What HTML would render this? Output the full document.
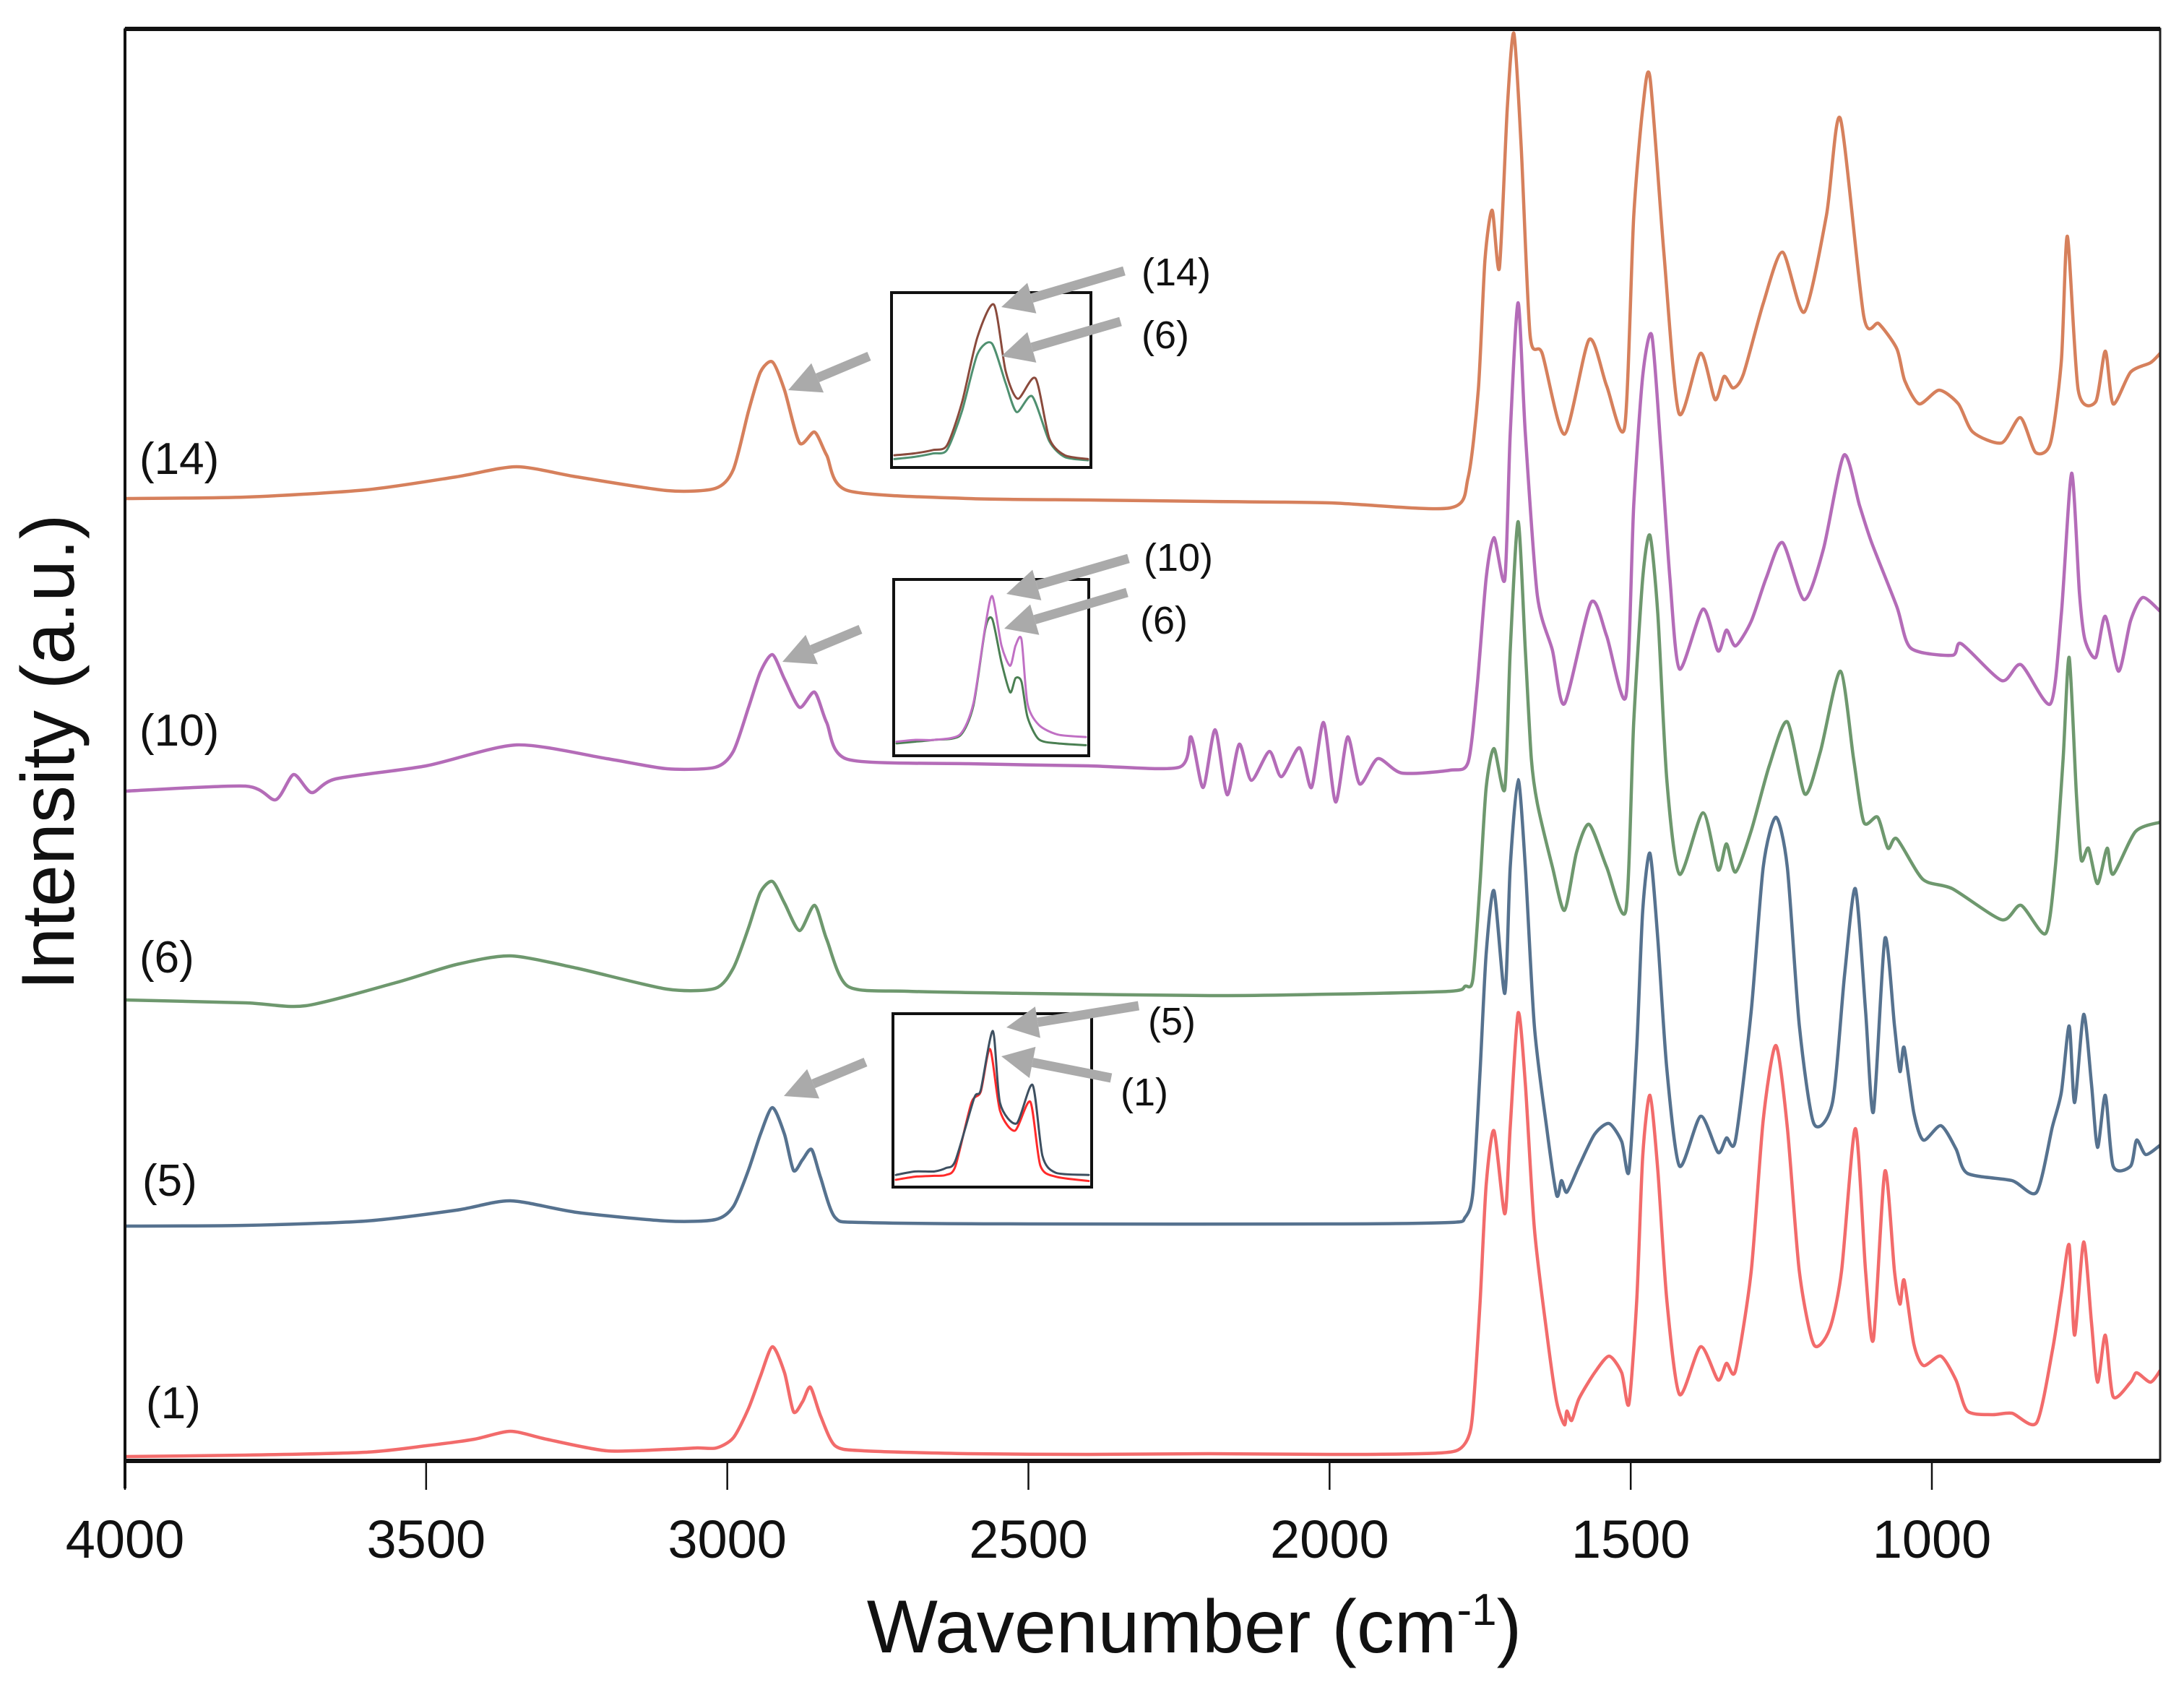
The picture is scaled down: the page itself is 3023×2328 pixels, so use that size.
<!DOCTYPE html>
<html><head><meta charset="utf-8"><style>
html,body{margin:0;padding:0;background:#fff;}
svg{display:block;}
text{font-family:"Liberation Sans",Arial,sans-serif;}
</style></head><body>
<svg id="chart" width="3023" height="2328" viewBox="0 0 3023 2328" xmlns="http://www.w3.org/2000/svg">
<defs><clipPath id="plotclip"><rect x="173" y="40" width="2817" height="1982"/></clipPath></defs>
<rect x="0" y="0" width="3023" height="2328" fill="#fff"/>
<g id="series" clip-path="url(#plotclip)"></g>
<g id="insets"></g>
<g id="axes"></g>
</svg>
<script>
const NS="http://www.w3.org/2000/svg";
// ---- data ----
const xTicks=[4000,3500,3000,2500,2000,1500,1000];
const xTickLabels=["4000","3500","3000","2500","2000","1500","1000"];
const seriesNames=["(1)","(5)","(6)","(10)","(14)"];
const wn1=[4000,3800,3600,3500,3420,3360,3300,3200,3100,3050,3018,2990,2965,2945,2925,2905,2890,2875,2862,2845,2821,2774,2600,2400,2200,2000,1850,1790,1770,1762,1750,1740,1727,1709,1700,1687,1675,1660,1640,1623,1610,1606,1598,1586,1560,1536,1515,1503,1490,1480,1468,1455,1440,1419,1384,1355,1341,1326,1300,1280,1259,1240,1220,1196,1170,1150,1127,1110,1097,1078,1062,1053,1046,1030,1014,985,960,941,900,867,826,800,785,772,763,748,735,725,712,699,670,660,637,621];
const val1=[6,8,12,21,30,41,30,14,16,18,18,32,72,117,158,122,68,82,102,62,21,14,10,9,10,9,10,14,32,69,222,382,457,342,462,620,522,322,181,82,50,69,56,86,122,145,122,79,222,422,506,402,222,92,158,112,135,125,262,472,575,462,262,161,182,262,460,262,168,401,262,217,250,162,132,145,112,69,64,66,53,152,232,299,174,303,192,109,174,89,109,122,109,125];
const wn5=[4000,3800,3600,3450,3360,3250,3100,3020,2990,2965,2945,2925,2905,2890,2875,2860,2845,2821,2774,2500,2000,1800,1775,1762,1750,1740,1727,1709,1700,1687,1675,1660,1640,1623,1615,1606,1586,1560,1536,1515,1503,1490,1480,1468,1455,1440,1419,1384,1355,1341,1326,1300,1280,1259,1240,1220,1196,1165,1145,1127,1110,1097,1078,1062,1053,1046,1030,1014,985,960,941,867,826,800,785,772,763,748,735,725,712,699,670,660,645,621];
const val5=[325,326,332,347,360,344,332,334,352,402,452,489,452,402,417,431,392,337,330,328,328,330,337,372,542,702,789,647,822,943,822,602,464,368,388,372,408,452,467,442,401,572,762,841,722,542,408,477,427,447,444,622,822,891,822,602,467,496,672,792,622,483,723,602,539,572,482,444,464,432,398,388,372,462,510,602,496,618,522,434,506,408,408,444,424,437];
const wn6=[4000,3800,3700,3550,3450,3360,3250,3100,3020,2990,2965,2945,2925,2905,2880,2855,2835,2800,2700,2500,2200,2000,1800,1775,1762,1750,1740,1727,1709,1700,1687,1675,1665,1655,1630,1610,1590,1569,1540,1508,1495,1480,1468,1455,1440,1419,1380,1355,1341,1326,1300,1270,1240,1211,1185,1152,1130,1113,1090,1073,1058,1015,966,884,852,811,795,782,772,760,752,740,725,709,699,662,621];
const val6=[638,634,630,662,687,699,682,653,654,682,737,787,802,772,734,769,722,657,650,647,644,646,650,657,667,802,932,986,930,1122,1300,1122,972,910,822,762,842,881,822,762,1022,1222,1281,1172,942,812,897,818,854,815,872,962,1023,923,982,1093,972,884,891,848,861,805,792,749,769,730,822,972,1112,922,832,848,799,848,812,871,884];
const wn10=[4000,3800,3750,3720,3690,3650,3500,3350,3200,3100,3020,2990,2965,2945,2925,2905,2880,2855,2835,2800,2600,2400,2250,2230,2210,2190,2170,2150,2130,2100,2080,2050,2030,2010,1990,1970,1950,1920,1880,1800,1770,1755,1740,1727,1709,1700,1687,1675,1655,1630,1610,1566,1540,1508,1495,1480,1465,1450,1435,1419,1380,1355,1341,1326,1300,1275,1248,1212,1180,1146,1120,1100,1058,1035,966,951,884,852,803,785,768,755,746,728,712,690,670,650,621];
const val10=[927,934,915,950,925,944,962,991,972,958,960,982,1042,1092,1116,1082,1043,1064,1022,971,965,962,960,1002,932,1012,922,992,942,982,947,987,932,1022,912,1002,937,972,952,956,967,1072,1222,1278,1220,1422,1603,1422,1198,1122,1048,1188,1142,1058,1322,1502,1558,1402,1222,1096,1179,1121,1150,1128,1162,1222,1271,1192,1262,1392,1322,1271,1182,1125,1115,1131,1080,1102,1048,1172,1367,1202,1137,1112,1169,1093,1163,1195,1176];
const wn14=[4000,3800,3600,3450,3350,3250,3100,3020,2990,2965,2945,2925,2905,2880,2855,2835,2800,2600,2400,2200,2000,1800,1770,1753,1742,1730,1718,1705,1694,1682,1667,1647,1610,1569,1540,1510,1495,1480,1468,1445,1420,1384,1360,1345,1330,1313,1280,1248,1212,1175,1152,1113,1088,1058,1045,1021,988,956,932,884,853,828,803,785,775,757,728,712,699,670,637,621];
const val14=[1332,1334,1344,1362,1376,1362,1343,1346,1372,1452,1507,1521,1482,1409,1424,1392,1343,1332,1330,1328,1326,1319,1361,1482,1662,1731,1651,1872,1976,1822,1558,1533,1421,1552,1488,1431,1722,1872,1915,1673,1450,1533,1469,1501,1485,1504,1602,1673,1590,1724,1858,1584,1574,1539,1495,1463,1482,1463,1424,1409,1444,1396,1409,1522,1695,1482,1466,1536,1463,1507,1520,1533];
// inset data (wavenumber window 3100-2750, normalized intensity)
const insA_wn=[3100,3065,3030,3005,2978,2950,2920,2899,2877,2845,2820,2792,2750];
const insA_v14=[0.07,0.08,0.10,0.126,0.37,0.745,0.931,0.552,0.393,0.51,0.166,0.07,0.048];
const insA_wn6=[3100,3065,3030,3005,2978,2950,2924,2899,2879,2851,2820,2792,2750];
const insA_v6=[0.048,0.06,0.08,0.10,0.32,0.648,0.71,0.483,0.317,0.407,0.15,0.06,0.041];
const insB_wn=[3100,3065,3030,2983,2958,2936,2923,2906,2890,2880,2869,2858,2837,2802,2750];
const insB_v10=[0.08,0.09,0.09,0.12,0.297,0.734,0.905,0.625,0.51,0.625,0.66,0.297,0.175,0.12,0.106];
const insB_v6=[0.07,0.08,0.09,0.113,0.283,0.72,0.775,0.53,0.36,0.44,0.42,0.22,0.093,0.07,0.06];
const insC_wn5=[3100,3065,3030,3009,2992,2958,2946,2924,2911,2881,2852,2834,2810,2750];
const insC_v5=[0.07,0.09,0.09,0.11,0.152,0.512,0.56,0.90,0.485,0.367,0.589,0.18,0.083,0.07];
const insC_wn1=[3100,3065,3030,3009,2992,2963,2946,2929,2911,2884,2856,2838,2810,2750];
const insC_v1=[0.042,0.06,0.065,0.07,0.12,0.485,0.55,0.796,0.44,0.325,0.492,0.125,0.06,0.035];

// ---- scales ----
const X0=173,X1=2990,YB=2022,YT=40;
function xS(w){return X0+(4000-w)*(2674-173)/3000;}
function yS(v){return YB-v;}
const svg=document.getElementById('chart');
const gS=document.getElementById('series'),gI=document.getElementById('insets'),gA=document.getElementById('axes');
function mk(tag,attrs,parent){const e=document.createElementNS(NS,tag);for(const k in attrs)e.setAttribute(k,attrs[k]);parent.appendChild(e);return e;}
function line(xs,vs,xf,yf,color,w,parent,name){
  const P=xs.map((x,i)=>[xf(x),yf(vs[i])]);
  let d='M'+P[0][0].toFixed(1)+','+P[0][1].toFixed(1);
  const k=1/8;
  for(let i=0;i<P.length-1;i++){
    const p0=P[Math.max(0,i-1)],p1=P[i],p2=P[i+1],p3=P[Math.min(P.length-1,i+2)];
    const c1x=p1[0]+(p2[0]-p0[0])*k,c1y=p1[1]+(p2[1]-p0[1])*k;
    const c2x=p2[0]-(p3[0]-p1[0])*k,c2y=p2[1]-(p3[1]-p1[1])*k;
    d+='C'+c1x.toFixed(1)+','+c1y.toFixed(1)+' '+c2x.toFixed(1)+','+c2y.toFixed(1)+' '+p2[0].toFixed(1)+','+p2[1].toFixed(1);
  }
  const p=mk('path',{d:d,fill:'none',stroke:color,'stroke-width':w,'stroke-linejoin':'round','stroke-linecap':'round'},parent);
  
  
  return p;
}
const sData=[[wn1,val1,'#f26b6b','series-1'],[wn5,val5,'#56728f','series-5'],[wn6,val6,'#6e986e','series-6'],[wn10,val10,'#b46cb8','series-10'],[wn14,val14,'#d6805c','series-14']];
sData.forEach(s=>line(s[0],s[1],xS,yS,s[2],4.5,gS,s[3]));

// series labels
const lblPos=[[202,1963],[197,1655],[193,1346],[193,1032],[193,656]];
seriesNames.forEach((n,i)=>{const t=mk('text',{x:lblPos[i][0],y:lblPos[i][1],'font-size':62,fill:'#111'},gA);t.textContent=n;

});

// frame
const fr=mk('rect',{x:X0,y:YT,width:X1-X0,height:YB-YT,fill:'none',stroke:'#222','stroke-width':3},gA);


const ax=mk('line',{x1:X0,y1:YB,x2:X1,y2:YB,stroke:'#111','stroke-width':6},gA);


const tp=mk('line',{x1:X0,y1:YT,x2:X1,y2:YT,stroke:'#111','stroke-width':6},gA);


const lf=mk('line',{x1:X0,y1:YT,x2:X0,y2:2060,stroke:'#111','stroke-width':4},gA);


xTicks.forEach((t,i)=>{
  const tk=mk('line',{x1:xS(t),y1:YB,x2:xS(t),y2:2062,stroke:'#111','stroke-width':2.5},gA);
  
  
  const tl=mk('text',{x:xS(t),y:2156,'font-size':74,'text-anchor':'middle',fill:'#111'},gA);tl.textContent=xTickLabels[i];
  
  
});
const xt=mk('text',{x:1653,y:2287,'font-size':104,'text-anchor':'middle',fill:'#111'},gA);
xt.innerHTML='Wavenumber (cm<tspan dy="-38" font-size="62">-1</tspan><tspan dy="38">)</tspan>';


const yt=mk('text',{x:67,y:1041,'font-size':104,'text-anchor':'middle','dominant-baseline':'central',fill:'#111',transform:'rotate(-90 67 1041)'},gA);
yt.textContent='Intensity (a.u.)';



// insets
function inset(bx,by,bw,bh,curves,name){
  const g=mk('g',{},gI);
  
  
  const r=mk('rect',{x:bx,y:by,width:bw,height:bh,fill:'#fff',stroke:'#111','stroke-width':4},g);
  
  
  const xf=w=>bx+4+(3100-w)/350*(bw-8), yf=v=>by+(1-v)*bh;
  curves.forEach(c=>line(c[0],c[1],xf,yf,c[2],3,g,c[3]));
}
inset(1234,405,276,242,[[insA_wn6,insA_v6,'#4f9070','inset1-series-6'],[insA_wn,insA_v14,'#8a4a3c','inset1-series-14']],'inset-14-6');
inset(1237,802,270,244,[[insB_wn,insB_v6,'#4a7f52','inset2-series-6'],[insB_wn,insB_v10,'#c070c4','inset2-series-10']],'inset-10-6');
inset(1236,1403,275,240,[[insC_wn1,insC_v1,'#ff2a2a','inset3-series-1'],[insC_wn5,insC_v5,'#3d4f60','inset3-series-5']],'inset-5-1');

function arrow(x1,y1,x2,y2,name){
  const dx=x2-x1,dy=y2-y1,L=Math.hypot(dx,dy),ux=dx/L,uy=dy/L,hl=44,hw=22;
  const bx=x2-ux*hl,by=y2-uy*hl;
  const g=mk('g',{},gI);
  
  
  mk('line',{x1:x1,y1:y1,x2:bx,y2:by,stroke:'#aaa','stroke-width':13},g);
  mk('polygon',{points:`${x2},${y2} ${bx-uy*hw},${by+ux*hw} ${bx+uy*hw},${by-ux*hw}`,fill:'#aaa'},g);
}
arrow(1556,375,1386,425,'arrow-14');
arrow(1551,445,1386,493,'arrow-6-a');
arrow(1203,493,1091,540,'arrow-inset1-to-peak');
arrow(1562,773,1393,822,'arrow-10');
arrow(1560,820,1390,870,'arrow-6-b');
arrow(1191,871,1083,916,'arrow-inset2-to-peak');
arrow(1576,1392,1393,1422,'arrow-5');
arrow(1538,1492,1386,1462,'arrow-1');
arrow(1198,1470,1085,1517,'arrow-inset3-to-peak');
const ilab=[['(14)',1580,395],['(6)',1580,482],['(10)',1583,790],['(6)',1578,877],['(5)',1589,1432],['(1)',1551,1530]];
ilab.forEach((l,i)=>{const t=mk('text',{x:l[1],y:l[2],'font-size':54,fill:'#111'},gI);t.textContent=l[0];

});
</script>
</body></html>
